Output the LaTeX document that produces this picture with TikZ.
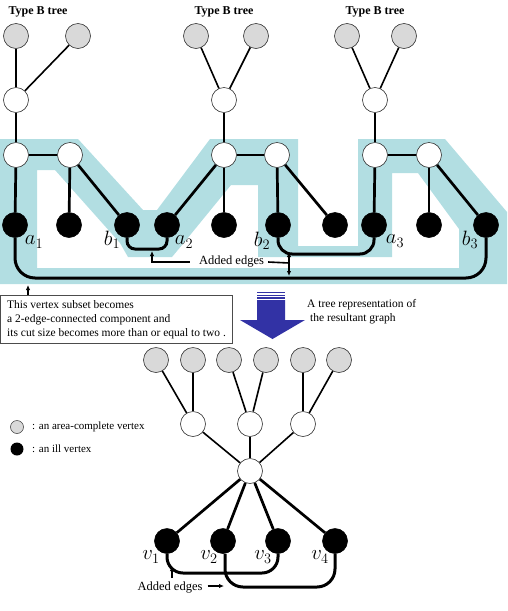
\documentclass[tikz,border=0pt]{standalone}
\usepackage{fontspec}
\setmainfont{Liberation Serif}
\usetikzlibrary{arrows.meta}
\definecolor{bandc}{RGB}{178,222,226}
\definecolor{graynode}{RGB}{217,217,217}
\definecolor{bigarrow}{RGB}{50,50,165}
\begin{document}
\begin{tikzpicture}[x=1pt,y=-1pt,
  vert/.style={circle,draw=black!80,line width=0.6pt,minimum size=25pt,inner sep=0pt},
  gv/.style={vert,fill=graynode},
  wv/.style={vert,fill=white},
  bv/.style={vert,fill=black,draw=black},
  e1/.style={line width=1.6pt},
  e2/.style={line width=2pt},
  e3/.style={line width=2.7pt},
  added/.style={line width=3pt},
  arr/.style={line width=1.6pt,-{Latex[length=5pt,width=4.5pt]}},
  lab/.style={font=\fontsize{21}{21}\selectfont,inner sep=0pt},
  txt/.style={font=\fontsize{11.5}{14}\selectfont,inner sep=0pt},
  ttl/.style={font=\fontsize{12}{14}\selectfont\bfseries,inner sep=0pt},
  aetxt/.style={font=\fontsize{12.5}{14}\selectfont,inner sep=0pt}
]
\useasboundingbox (0,0) rectangle (507,611);

% background band
\fill[bandc, even odd rule]
  (0,139) -- (78,139) -- (143,210) -- (157,210) -- (210,139) -- (298,139) -- (298,246)
  -- (358,246) -- (358,139) -- (445,139) -- (507,212) -- (507,284) -- (0,284) -- cycle
  (37,170) -- (55,170) -- (120,243) -- (128,257) -- (172,257) -- (182,245) -- (231,185)
  -- (258,185) -- (258,257) -- (392,257) -- (392,173) -- (418,173) -- (459,229)
  -- (459,268) -- (37,268) -- cycle;

% titles
\node[ttl] (t1) at (38,12) {Type B tree};
\node[ttl] (t2) at (224,12) {Type B tree};
\node[ttl] (t3) at (375,12) {Type B tree};

% tree 1
\node[gv] (g11) at (16,36) {};
\node[gv] (g12) at (78,36) {};
\node[wv] (w11) at (16,100) {};
\node[wv] (w12) at (16,155) {};
\node[wv] (w13) at (70,155) {};
\node[bv] (a1) at (15,225) {};
\node[bv] (k1) at (69,225) {};
\node[bv] (b1) at (127,225) {};
% tree 2
\node[gv] (g21) at (196,36) {};
\node[gv] (g22) at (256,36) {};
\node[wv] (w21) at (224,100) {};
\node[wv] (w22) at (224,155) {};
\node[wv] (w23) at (277,155) {};
\node[bv] (a2) at (167,225) {};
\node[bv] (k2) at (224,225) {};
\node[bv] (b2) at (278,225) {};
\node[bv] (k3) at (335,225) {};
% tree 3
\node[gv] (g31) at (347,36) {};
\node[gv] (g32) at (404,36) {};
\node[wv] (w31) at (375,100) {};
\node[wv] (w32) at (375,155) {};
\node[wv] (w33) at (429,155) {};
\node[bv] (a3) at (374,225) {};
\node[bv] (k4) at (429,225) {};
\node[bv] (b3) at (486,225) {};

% edges top
\draw[e1] (g11) -- (w11);
\draw[e1] (g12) -- (w11);
\draw[e2] (w11) -- (w12);
\draw[e2] (w12) -- (w13);
\draw[e3] (w12) -- (a1);
\draw[e3] (w13) -- (k1);
\draw[e3] (w13) -- (b1);
\draw[e1] (g21) -- (w21);
\draw[e1] (g22) -- (w21);
\draw[e2] (w21) -- (w22);
\draw[e2] (w22) -- (w23);
\draw[e3] (w22) -- (a2);
\draw[e3] (w22) -- (k2);
\draw[e3] (w23) -- (b2);
\draw[e3] (w23) -- (k3);
\draw[e1] (g31) -- (w31);
\draw[e1] (g32) -- (w31);
\draw[e2] (w31) -- (w32);
\draw[e2] (w32) -- (w33);
\draw[e3] (w32) -- (a3);
\draw[e3] (w33) -- (k4);
\draw[e3] (w33) -- (b3);

% added edges top
\draw[added,rounded corners=8pt] (b1.south) -- (b1.south |- 0,249) -| (a2.south);
\draw[added,rounded corners=14pt] (b2.south) -- (b2.south |- 0,254) -| (a3.south);
\draw[added,rounded corners=20pt] (a1.south) -- (a1.south |- 0,278) -| (b3.south);

% labels
\node[lab] (la1) at (34,242) {$a_1$};
\node[lab] (lb1) at (112,240) {$b_1$};
\node[lab] (la2) at (184,242) {$a_2$};
\node[lab] (lb2) at (262,241) {$b_2$};
\node[lab] (la3) at (395,241) {$a_3$};
\node[lab] (lb3) at (470,240) {$b_3$};

% added edges annotation (top)
\node[aetxt] (ae1) at (231.5,262) {Added edges};
\coordinate (ae1tip) at (152,251);
\draw[arr] ([xshift=-9pt]ae1.west) -| (ae1tip);
\coordinate (ae1j) at (289,263);
\draw[line width=1.6pt] ([xshift=4pt]ae1.east) -- (ae1j);
\coordinate (ae1up) at (289,252);
\coordinate (ae1dn) at (289,276);
\draw[line width=1.6pt,{Latex[length=5pt,width=4.5pt]}-{Latex[length=5pt,width=4.5pt]}] (ae1up) -- (ae1dn);

% explanation box
\node[draw=black!70,line width=0.6pt,anchor=north west,minimum width=231.5pt,minimum height=48pt,
  inner sep=0pt,align=left,font=\fontsize{11.5}{14}\selectfont]
  (box) at (0.5,295) {This vertex subset becomes\\a 2-edge-connected component and\\its cut size becomes more than or equal to two .};
\coordinate (boxtip) at (28,285);
\draw[arr,line width=1.4pt] (box.north -| boxtip) -- (boxtip);

\node[txt,anchor=west,align=left] (rt) at (307,312) {A tree representation of\\\ the resultant graph};

% big arrow
\fill[bigarrow] (257,291.8) rectangle (285,293.2);
\fill[bigarrow] (257,294.6) rectangle (285,296);
\fill[bigarrow] (257,297.4) rectangle (285,298.8);
\fill[bigarrow] (257,300) -- (285,300) -- (285,320) -- (305,320) -- (272.5,339)
  -- (240,320) -- (257,320) -- cycle;

% lower tree
\node[gv] (h1) at (156,360) {};
\node[gv] (h2) at (193,360) {};
\node[gv] (h3) at (229,360) {};
\node[gv] (h4) at (266,360) {};
\node[gv] (h5) at (303,360) {};
\node[gv] (h6) at (339,360) {};
\node[wv] (u1) at (193,424) {};
\node[wv] (u2) at (250,424) {};
\node[wv] (u3) at (303,424) {};
\node[wv] (c) at (250,471) {};
\node[bv] (v1) at (167,541) {};
\node[bv] (v2) at (223,541) {};
\node[bv] (v3) at (278,541) {};
\node[bv] (v4) at (335,541) {};

\draw[e1] (h1) -- (u1);
\draw[e1] (h2) -- (u1);
\draw[e1] (h3) -- (u2);
\draw[e1] (h4) -- (u2);
\draw[e1] (h5) -- (u3);
\draw[e1] (h6) -- (u3);
\draw[e1] (u1) -- (c);
\draw[e1] (u2) -- (c);
\draw[e1] (u3) -- (c);
\draw[e3] (c) -- (v1);
\draw[e3] (c) -- (v2);
\draw[e3] (c) -- (v3);
\draw[e3] (c) -- (v4);

\draw[added,rounded corners=16pt] (v1.south) -- (v1.south |- 0,573) -| (v3.south);
\draw[added,rounded corners=18pt] ([xshift=2pt]v2.south) -- ([xshift=2pt]v2.south |- 0,587) -| (v4.south);

\node[lab] (lv1) at (151,557) {$v_1$};
\node[lab] (lv2) at (209,557) {$v_2$};
\node[lab] (lv3) at (263,557) {$v_3$};
\node[lab] (lv4) at (320,557) {$v_4$};

\node[aetxt] (ae2) at (170,588) {Added edges};
\coordinate (ae2a) at (172,578);
\coordinate (ae2b) at (172,566);
\draw[arr] (ae2a) -- (ae2b);
\coordinate (ae2tip) at (224,586);
\draw[arr] ([xshift=5pt]ae2.east |- ae2tip) -- (ae2tip);

% legend
\node[circle,draw=black!80,line width=0.5pt,fill=graynode,minimum size=13pt,inner sep=0pt] (lg1) at (17,427) {};
\node[circle,fill=black,minimum size=13pt,inner sep=0pt] (lg2) at (17,449) {};
\node[txt,anchor=west,font=\fontsize{11}{13}\selectfont] (lt1) at (32,427) {: an area-complete vertex};
\node[txt,anchor=west,font=\fontsize{11}{13}\selectfont] (lt2) at (32,449) {: an ill vertex};
\end{tikzpicture}
\end{document}
